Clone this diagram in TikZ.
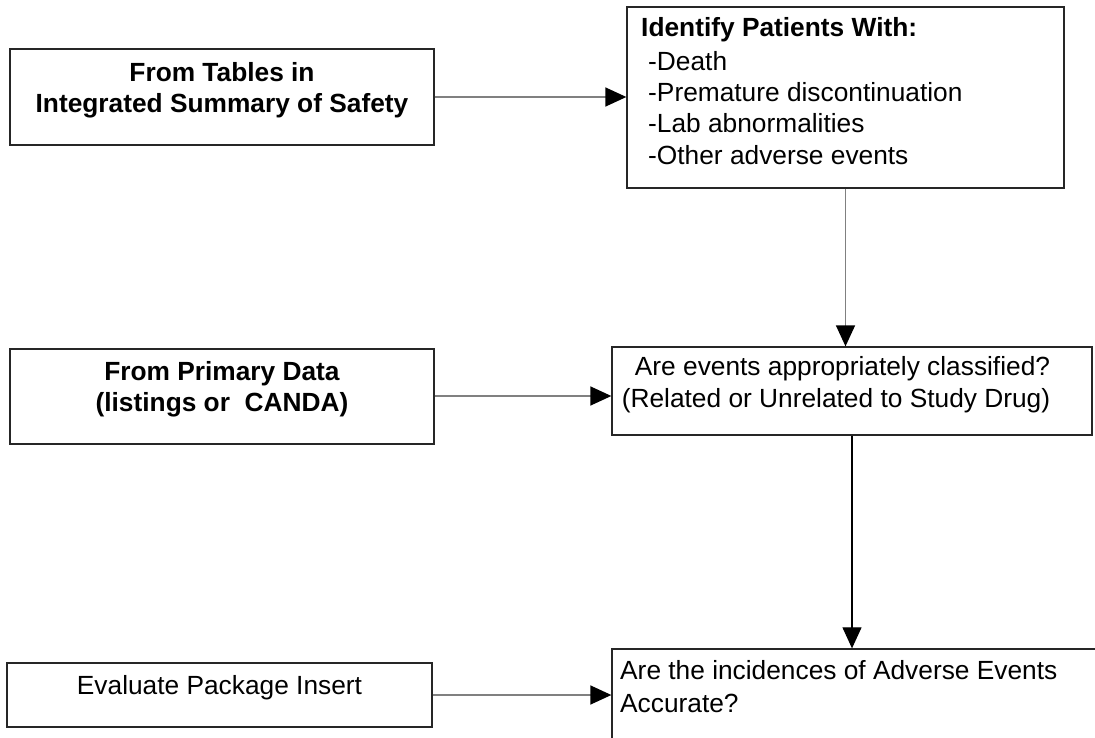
\documentclass[tikz,border=0pt]{standalone}
\usepackage{fontspec}
\setmainfont{Liberation Sans}
\usetikzlibrary{arrows.meta}
\begin{document}
\begin{tikzpicture}[x=1pt,y=-1pt,
  box/.style={draw=black!85, line width=1.3pt, inner sep=0pt, fill=none},
  conn/.style={draw=black!50, line width=1.5pt, -{Triangle[length=21pt,width=19pt,color=black]}},
  connb/.style={conn, draw=black, line width=1.1pt},
  txt/.style={inner sep=0pt, font=\fontsize{26.3}{31.5}\selectfont},
  btxt/.style={inner sep=0pt, font=\fontsize{26.3}{31.5}\selectfont\bfseries}]
\useasboundingbox (0,0) rectangle (1095,738);
\clip (0,0) rectangle (1095,738);
% boxes
\node[box, minimum width=424pt, minimum height=96pt] (A) at (222,97) {};
\node[box, minimum width=437pt, minimum height=181pt] (B) at (845.5,97.5) {};
\node[box, minimum width=480pt, minimum height=88pt] (C) at (852,391) {};
\node[box, minimum width=424pt, minimum height=95pt] (D) at (222,396.5) {};
\node[box, minimum width=498pt, minimum height=141pt] (E) at (861,719.5) {};
\node[box, minimum width=425pt, minimum height=64pt] (F) at (219.5,695) {};
% texts
\node[btxt, anchor=base] (A1) at (222,82) {From Tables in};
\node[btxt, anchor=base] (A2) at (222,113) {Integrated Summary of Safety};
\node[btxt, anchor=base west] (B0) at (641,37) {Identify Patients With:};
\node[txt, anchor=base west] (B1) at (648,71) {-Death};
\node[txt, anchor=base west] (B2) at (648,102) {-Premature discontinuation};
\node[txt, anchor=base west] (B3) at (648,133) {-Lab abnormalities};
\node[txt, anchor=base west] (B4) at (648,165) {-Other adverse events};
\node[btxt, anchor=base] (D1) at (222,380) {From Primary Data};
\node[btxt, anchor=base] (D2) at (222,411) {(listings or\ \ CANDA)};
\node[txt, anchor=base] (C1) at (842.5,375) {Are events appropriately classified?};
\node[txt, anchor=base] (C2) at (836,407) {(Related or Unrelated to Study Drug)};
\node[txt, anchor=base] (F1) at (219.5,694) {Evaluate Package Insert};
\node[txt, anchor=base west] (E1) at (620,679) {Are the incidences of Adverse Events};
\node[txt, anchor=base west] (E2) at (620,712) {Accurate?};
% connectors
\draw[conn] (A.east) -- (A.east -| B.west);
\draw[conn] (D.east |- 0,396) -- (C.west |- 0,396);
\draw[conn] (F.east) -- (F.east -| E.west);
\draw[conn] (B.south) -- (B.south |- C.north);
\draw[connb] (C.south) -- (C.south |- E.north);
\end{tikzpicture}
\end{document}
